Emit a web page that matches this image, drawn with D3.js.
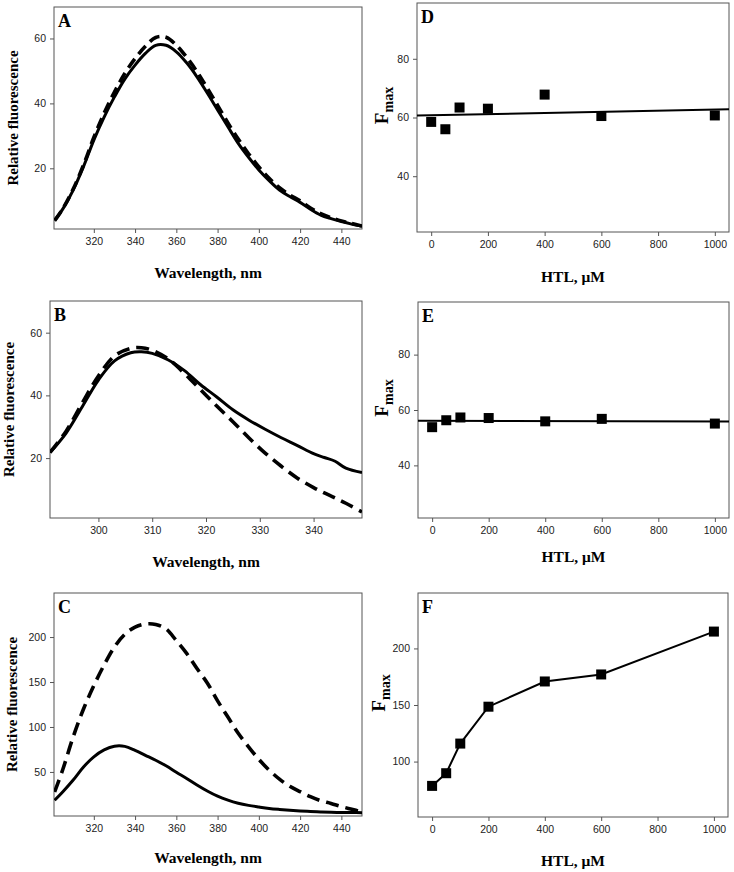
<!DOCTYPE html>
<html><head><meta charset="utf-8">
<script src="https://cdn.jsdelivr.net/npm/d3@7"></script>
<style>body{margin:0;background:#fff}svg{display:block}</style>
</head><body>
<svg id="c" width="734" height="872"></svg>
<script>
// ---------- data ----------
const wlA = [301,305,310,315,320,325,330,335,340,345,350,355,360,365,370,375,380,385,390,395,400,405,410,415,420,425,430,435,440,445,450];
const solidA = [3.9,7.5,13.3,20.5,28.7,35.8,42,47.5,51.8,55.4,57.9,57.9,55.9,52.5,48.2,43.2,38,32.8,27.7,23.4,19.5,16.2,13.3,11.3,9.5,7.4,5.6,4.5,3.6,2.8,2.1];
const dashedA = [3.9,7.6,13.6,21,29.5,37,43.5,49.2,53.8,57.6,60.3,60.4,57.9,54.2,49.8,44.7,39.4,34,29,24.5,20.4,16.9,14,11.8,10,7.8,6,4.8,3.8,3,2.2];

const wlB = [291,294,297,300,303,306,308,310,313,316,319,322,325,328,331,334,337,340,342,344,346,349];
const solidB = [21.8,28,36.4,44.9,51,53.6,53.9,53.4,51.3,47.9,43.4,39.5,35.4,32.1,29.2,26.5,24,21.4,20.2,19,16.8,15.4];
const dashedB = [21.8,28.6,37.6,46.2,52.6,55,55.2,54.4,51.6,47,41.8,36.6,31.6,26.4,21.6,17.4,13.6,10.6,8.9,7.3,5.6,2.8];

const wlC = [301,305,310,315,320,325,330,335,340,345,350,355,360,365,370,375,380,385,390,395,400,405,410,415,420,425,430,435,440,445,450];
const solidC = [18.5,28,41,55.5,66.8,74.5,78.6,78.4,74,68.5,63,56.8,49.7,42.8,35.5,28.8,23,18.6,15.2,12.8,11,9.4,8.3,7.4,6.6,6,5.5,5.1,4.9,4.8,4.7];
const dashedC = [27.7,53,89,120,146,169,189,203,211,214.5,214,209,196,181.8,165,149,129,111,93,78,64,52,42,34,28,22.5,18,15,11.5,8.5,5.5];

const htl = [0,50,100,200,400,600,1000];
const fmaxD = [58.5,56,63.4,63,67.8,60.5,60.7];
const fmaxE = [53.8,56.3,57.3,57.1,55.9,56.8,55.1];
const fmaxF = [78.5,89.7,115.9,148.5,170.8,177,214.9];

const ticksWlAC = [320,340,360,380,400,420,440];
const ticksWlB = [300,310,320,330,340];
const ticksYAB = [20,40,60];
const ticksYC = [50,100,150,200];
const ticksHtl = [0,200,400,600,800,1000];
const ticksYDE = [40,60,80];
const ticksYF = [100,150,200];

const letters = ["A","B","C","D","E","F"];
const xTitleWl = "Wavelength, nm";
const xTitleHtl = "HTL, μM";
const yTitleSpec = "Relative fluorescence";

// ---------- drawing ----------
const svg = d3.select("#c");
const serif = "'Liberation Serif','Times New Roman',serif";
const sans = "'Liberation Sans',Arial,sans-serif";

function lsq(xs, ys){
  const mx = d3.mean(xs), my = d3.mean(ys);
  let sxy=0, sxx=0;
  xs.forEach((x,i)=>{sxy+=(x-mx)*(ys[i]-my); sxx+=(x-mx)*(x-mx);});
  const b = sxy/sxx; return x => my + b*(x-mx);
}

function panel(cfg){
  const g = svg.append("g");
  const x = d3.scaleLinear().domain(cfg.xd).range([cfg.l, cfg.r]);
  const y = d3.scaleLinear().domain(cfg.yd).range([cfg.b, cfg.t]);
  const cid = "clip"+cfg.letter;
  svg.append("clipPath").attr("id",cid).append("rect")
    .attr("x",cfg.l).attr("y",cfg.t).attr("width",cfg.r-cfg.l).attr("height",cfg.b-cfg.t);

  const xa = g.append("g").attr("transform",`translate(0,${cfg.b})`)
    .call(d3.axisBottom(x).tickValues(cfg.xt).tickSize(4).tickSizeOuter(0).tickPadding(5).tickFormat(d3.format("d")));
  const ya = g.append("g").attr("transform",`translate(${cfg.l},0)`)
    .call(d3.axisLeft(y).tickValues(cfg.yt).tickSize(4).tickSizeOuter(0).tickPadding(4).tickFormat(d3.format("d")));
  [xa,ya].forEach(a=>{
    a.select(".domain").remove();
    a.selectAll("line").attr("stroke","#555");
    a.selectAll("text").attr("font-family",sans).attr("font-size",10.5).attr("fill","#222");
  });
  g.append("rect").attr("x",cfg.l).attr("y",cfg.t).attr("width",cfg.r-cfg.l).attr("height",cfg.b-cfg.t)
    .attr("fill","none").attr("stroke","#555").attr("stroke-width",1);

  const plot = g.append("g").attr("clip-path",`url(#${cid})`);
  if(cfg.spec){
    const line = d3.line().x((d,i)=>x(cfg.wl[i])).y(d=>y(d)).curve(d3.curveCatmullRom.alpha(0.5));
    plot.append("path").attr("d",line(cfg.solid)).attr("fill","none").attr("stroke","#000").attr("stroke-width",3);
    plot.append("path").attr("d",line(cfg.dashed)).attr("fill","none").attr("stroke","#000").attr("stroke-width",3.6)
      .attr("stroke-dasharray",cfg.dash);
  } else {
    if(cfg.fit){
      const f = lsq(htl, cfg.vals);
      plot.append("line").attr("x1",x(cfg.xd[0])).attr("x2",x(cfg.xd[1]))
        .attr("y1",y(f(cfg.xd[0]))).attr("y2",y(f(cfg.xd[1])))
        .attr("stroke","#000").attr("stroke-width",2);
    } else {
      const line = d3.line().x((d,i)=>x(htl[i])).y(d=>y(d));
      plot.append("path").attr("d",line(cfg.vals)).attr("fill","none").attr("stroke","#000").attr("stroke-width",2);
    }
    g.selectAll(null).data(cfg.vals).enter().append("rect")
      .attr("x",(d,i)=>x(htl[i])-5).attr("y",d=>y(d)-5).attr("width",10).attr("height",10).attr("fill","#000");
  }
  // panel letter
  g.append("text").attr("x",cfg.l+4).attr("y",cfg.t+20).text(cfg.letter)
    .attr("font-family",serif).attr("font-weight","bold").attr("font-size",18);
  // x title
  g.append("text").attr("x",(cfg.l+cfg.r)/2).attr("y",cfg.xty).attr("text-anchor","middle")
    .attr("font-family",serif).attr("font-weight","bold").attr("font-size",15.5).text(cfg.spec?xTitleWl:xTitleHtl);
  // y title
  const cy = (cfg.t+cfg.b)/2;
  if(cfg.spec){
    g.append("text").attr("transform",`translate(${cfg.ytx},${cy}) rotate(-90)`).attr("text-anchor","middle")
      .attr("font-family",serif).attr("font-weight","bold").attr("font-size",15).text(yTitleSpec);
  } else {
    const t = g.append("text").attr("transform",`translate(${cfg.ytx},${cy-12}) rotate(-90)`).attr("text-anchor","middle")
      .attr("font-family",serif).attr("font-weight","bold");
    t.append("tspan").attr("font-size",19).text("F");
    t.append("tspan").attr("font-size",14).attr("dy",5).text("max");
  }
}

panel({letter:letters[0],spec:true,l:54,r:362,t:7,b:229,xd:[300.7,450],yd:[1.3,69.7],xt:ticksWlAC,yt:ticksYAB,wl:wlA,solid:solidA,dashed:dashedA,dash:"11,6",xty:278,ytx:18});
panel({letter:letters[1],spec:true,l:50,r:362,t:301,b:518,xd:[291,349],yd:[0.9,70.1],xt:ticksWlB,yt:ticksYAB,wl:wlB,solid:solidB,dashed:dashedB,dash:"13,7",xty:567,ytx:14});
panel({letter:letters[2],spec:true,l:54,r:362,t:593,b:816,xd:[300.7,450],yd:[1,249],xt:ticksWlAC,yt:ticksYC,wl:wlC,solid:solidC,dashed:dashedC,dash:"13,7",xty:863,ytx:17});
panel({letter:letters[3],spec:false,fit:true,l:417,r:729,t:3,b:232,xd:[-50,1050],yd:[21,99],xt:ticksHtl,yt:ticksYDE,vals:fmaxD,xty:282,ytx:388});
panel({letter:letters[4],spec:false,fit:true,l:418,r:729,t:302,b:518,xd:[-50,1050],yd:[21,99],xt:ticksHtl,yt:ticksYDE,vals:fmaxE,xty:562,ytx:388});
panel({letter:letters[5],spec:false,fit:false,l:418,r:728,t:593,b:817,xd:[-50,1050],yd:[51,249],xt:ticksHtl,yt:ticksYF,vals:fmaxF,xty:866,ytx:385});
</script>
</body></html>
